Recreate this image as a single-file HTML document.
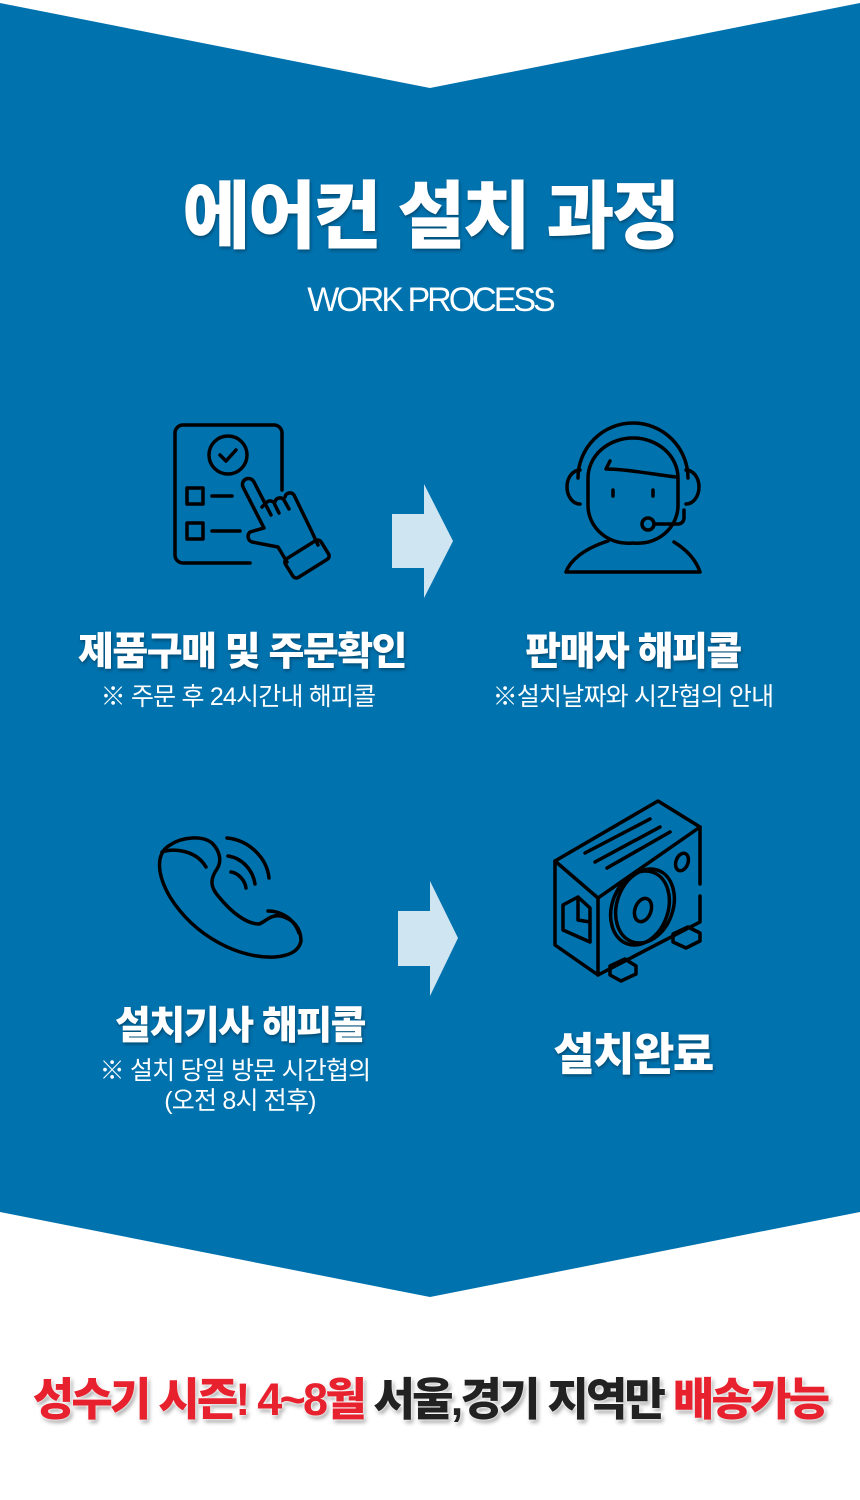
<!DOCTYPE html>
<html><head><meta charset="utf-8">
<style>
html,body{margin:0;padding:0;background:#fff;}
#p{position:relative;width:860px;height:1500px;overflow:hidden;background:#fff;font-family:"Liberation Sans","Noto Sans CJK KR",sans-serif;}
svg{position:absolute;left:0;top:0;}
.t{position:absolute;left:0;width:100%;text-align:center;color:#fff;white-space:nowrap;}
.h{font-weight:900;text-shadow:1px 2px 3px rgba(0,0,0,.35);}
.s{font-size:25px;letter-spacing:-0.8px;color:#fff;}
</style></head><body><div id="p">
<svg width="860" height="1500" viewBox="0 0 860 1500">
<polygon points="0,3 430,88 860,3 860,1212 430,1297 0,1212" fill="#0072ae"/>
<polygon points="392,514 424,514 424,484 453,541 424,598 424,568 392,568" fill="#d0e5f2"/>
<polygon points="398,911 430,911 430,881 458,938 430,996 430,966 398,966" fill="#d0e5f2"/>
<g fill="none" stroke="#000" stroke-width="3.5" stroke-linecap="round" stroke-linejoin="round">
<!-- clipboard -->
<path d="M250,563 H183 a8,8 0 0 1 -8,-8 V433 a8,8 0 0 1 8,-8 H274 a8,8 0 0 1 8,8 V490"/>
<circle cx="228" cy="455" r="19"/>
<path d="M220,455 l6,6 l10,-11"/>
<rect x="187" y="488" width="16" height="16"/>
<rect x="187" y="523" width="16" height="16"/>
<path d="M212,496 H232 M212,531 H240"/>
<path d="M264,528 L243,487 a6,6 0 0 1 11,-5 L271,515 M262,507 l5,-5 a5,5 0 0 1 8,3 l4,8 M275,502 a5,5 0 0 1 9,-2 l5,9 M285,497 a5,5 0 0 1 9,-2 L312,532 L318,545 M264,528 L250,532 a6,6 0 0 0 2,10 L278,547 L287,562"/>
<rect x="286" y="548" width="42" height="22" rx="4" transform="rotate(-32 307 559)"/>
<!-- headset -->
<path d="M578,478 a55,55 0 0 1 110,0"/>
<path d="M588,478 a45,40 0 0 1 90,0 V505 a40,38 0 0 1 -45,38 a40,38 0 0 1 -45,-38 Z"/>
<path d="M580,470 a13,17 0 0 0 0,34 M686,470 a13,17 0 0 1 0,34"/>
<path d="M610,461 l-4,8 c20,0 45,5 70,8"/>
<path d="M613,490 v6 M653,490 v6"/>
<path d="M684,510 v8 a6,6 0 0 1 -6,6 H654"/>
<circle cx="648" cy="524" r="6"/>
<path d="M608,541 c-25,8 -38,20 -42,31 H700 c-4,-12 -13,-22 -26,-30"/>
<!-- phone -->
<path d="M170,845 c12,-8 32,-10 42,-2 c8,8 10,18 5,26 c-7,10 -7,18 2,28 c13,16 28,27 40,27 c6,-2 12,-10 22,-8 c12,3 20,12 20,25 c-2,10 -12,15 -26,16 c-35,2 -80,-20 -105,-60 c-14,-24 -14,-44 0,-52 z"/>
<path d="M162,852 c12,-4 34,-2 44,15 M268,911 c10,0 25,5 31,22"/>
<path d="M231,872 c7,1 14,8 15,16 M228,856 c14,2 25,14 27,28 M227,838 c22,2 40,20 42,40"/>
<!-- AC unit -->
<path d="M555,861 L658,801 L700,827 L598,898 Z"/>
<path d="M598,898 V975 L700,922 V896 M700,884 V827"/>
<path d="M555,861 V945 L598,975"/>
<path d="M585,853 L650,819 M595,862 L660,827 M607,868 L670,832"/>
<ellipse cx="640" cy="908" rx="28" ry="38" transform="rotate(20 640 908)"/>
<ellipse cx="645" cy="906" rx="28" ry="38" transform="rotate(20 645 906)"/>
<ellipse cx="643" cy="910" rx="8" ry="12" transform="rotate(20 643 910)"/>
<ellipse cx="682" cy="862" rx="6" ry="9" transform="rotate(20 682 862)"/>
<path d="M563,905 L578,897 L590,908 V942 L563,930 Z M578,897 V920 L590,922"/>
<path d="M610,966 L625,959 L636,966 V974 L621,981 L610,975 Z M673,934 L688,927 L700,933 V941 L686,948 L673,942 Z"/>
</g>
</svg>
<div class="t h" style="top:172px;font-size:74px;letter-spacing:-2.5px;line-height:90px;">에어컨 설치 과정</div>
<div class="t" style="top:280px;font-size:34px;letter-spacing:-3px;line-height:40px;">WORK PROCESS</div>

<div class="t h" style="left:42px;width:400px;top:630px;font-size:39px;letter-spacing:-1.5px;line-height:46px;">제품구매 및 주문확인</div>
<div class="t s" style="left:38px;width:400px;top:682px;line-height:30px;">※ 주문 후 24시간내 해피콜</div>
<div class="t h" style="left:433px;width:400px;top:630px;font-size:39px;letter-spacing:-1.5px;line-height:46px;">판매자 해피콜</div>
<div class="t s" style="left:433px;width:400px;top:682px;line-height:30px;">※설치날짜와 시간협의 안내</div>

<div class="t h" style="left:40px;width:400px;top:1004px;font-size:39px;letter-spacing:-1.5px;line-height:46px;">설치기사 해피콜</div>
<div class="t s" style="left:35px;width:400px;top:1056px;line-height:30px;">※ 설치 당일 방문 시간협의</div>
<div class="t s" style="left:40px;width:400px;top:1086px;line-height:30px;">(오전 8시 전후)</div>
<div class="t h" style="left:433px;width:400px;top:1028px;font-size:45px;letter-spacing:-1.5px;line-height:54px;">설치완료</div>

<div class="t" style="top:1372px;font-size:45px;font-weight:900;letter-spacing:-2.8px;line-height:56px;text-shadow:0 0 3px #fff,0 0 3px #fff,2px 3px 4px rgba(0,0,0,.4);"><span style="color:#e8212e">성수기 시즌! 4~8월</span> <span style="color:#222">서울,경기 지역만</span> <span style="color:#e8212e">배송가능</span></div>
</div></body></html>
